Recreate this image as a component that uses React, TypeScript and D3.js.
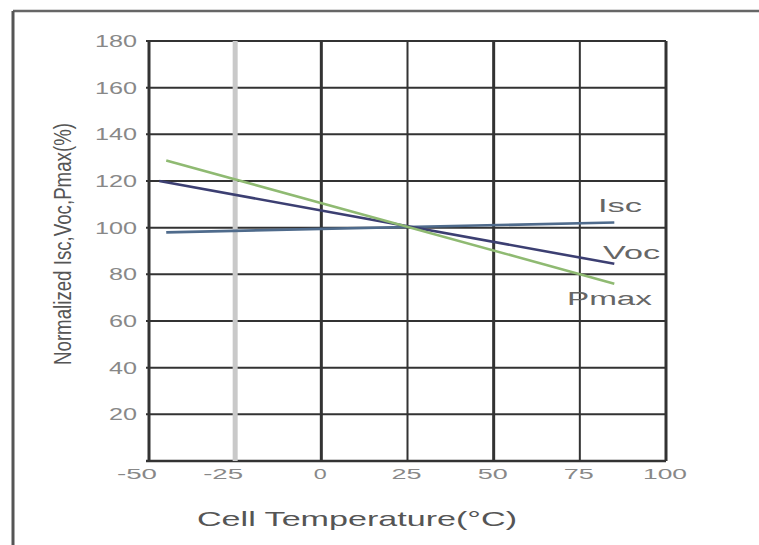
import React from "react";
import * as d3 from "d3";

// Temperature coefficient chart: normalized Isc, Voc and Pmax vs. cell temperature
const iscTemps = [-45, 85];
const iscValues = [98, 102.2];
const vocTemps = [-47, 85];
const vocValues = [120, 84.5];
const pmaxTemps = [-45, 85];
const pmaxValues = [128.8, 76];

const xTicks = [-50, -25, 0, 25, 50, 75, 100];
const yTicks = [0, 20, 40, 60, 80, 100, 120, 140, 160, 180];
const yTickLabels = ["20", "40", "60", "80", "100", "120", "140", "160", "180"];
const xTickLabels = ["-50", "-25", "0", "25", "50", "75", "100"];

const W = 759;
const H = 545;

export default function App() {
  const x = d3.scaleLinear().domain([-50, 100]).range([149, 666]);
  const y = d3.scaleLinear().domain([0, 180]).range([461, 41]);

  const line = d3
    .line<[number, number]>()
    .x((d) => x(d[0]))
    .y((d) => y(d[1]));

  const pairs = (t: number[], v: number[]) =>
    t.map((tt, i) => [tt, v[i]] as [number, number]);

  const series = [
    { name: "Isc", d: pairs(iscTemps, iscValues), color: "#4f6b8c" },
    { name: "Voc", d: pairs(vocTemps, vocValues), color: "#3c3f72" },
    { name: "Pmax", d: pairs(pmaxTemps, pmaxValues), color: "#8fba72" },
  ];

  const labelFont = "Arial, 'Liberation Sans', sans-serif";

  // vertical grid styling per temperature
  const vStyle = (t: number) => {
    if (t === -25) return { stroke: "#c9c9c9", w: 5 };
    if (t === 0 || t === 50 || t === -50 || t === 100) return { stroke: "#333", w: 3 };
    return { stroke: "#333", w: 2 };
  };

  const xLabelWidth = (s: string) =>
    s.startsWith("-") ? 40 : s.length === 1 ? 13 : s.length === 2 ? 30 : 44;

  return (
    <svg
      width={W}
      height={H}
      style={{ position: "absolute", left: 0, top: 0, background: "#fff" }}
      fontFamily={labelFont}
    >
      <rect x={0} y={0} width={W} height={H} fill="#fff" />
      {/* outer frame */}
      <line x1={13} y1={11} x2={W} y2={11} stroke="#666" strokeWidth={2.5} />
      <line x1={13} y1={11} x2={13} y2={H} stroke="#555" strokeWidth={3} />

      {/* horizontal grid */}
      {yTicks.map((v) => (
        <line
          key={"h" + v}
          x1={x(-50) - 3}
          x2={x(100)}
          y1={y(v)}
          y2={y(v)}
          stroke="#333"
          strokeWidth={v === 0 ? 2.5 : 2}
        />
      ))}

      {/* vertical grid */}
      {xTicks.map((t) => {
        const s = vStyle(t);
        return (
          <line
            key={"v" + t}
            x1={x(t)}
            x2={x(t)}
            y1={y(180)}
            y2={y(0)}
            stroke={s.stroke}
            strokeWidth={s.w}
          />
        );
      })}

      {/* series */}
      {series.map((s) => (
        <path
          key={s.name}
          d={line(s.d) || ""}
          fill="none"
          stroke={s.color}
          strokeWidth={2.6}
        />
      ))}

      {/* series labels */}
      <text x={598} y={212} fontSize={18} fill="#666" textLength={44} lengthAdjust="spacingAndGlyphs">
        Isc
      </text>
      <text x={603} y={259} fontSize={18} fill="#666" textLength={57} lengthAdjust="spacingAndGlyphs">
        Voc
      </text>
      <text x={567} y={305} fontSize={18} fill="#666" textLength={85} lengthAdjust="spacingAndGlyphs">
        Pmax
      </text>

      {/* y tick labels */}
      {yTickLabels.map((lab, i) => {
        const v = yTicks[i + 1];
        const w = lab.length * 14;
        return (
          <text
            key={"yl" + lab}
            x={137 - w}
            y={y(v) + 6}
            fontSize={16}
            fill="#888"
            textLength={w}
            lengthAdjust="spacingAndGlyphs"
          >
            {lab}
          </text>
        );
      })}

      {/* x tick labels */}
      {xTickLabels.map((lab, i) => {
        const t = xTicks[i];
        const w = xLabelWidth(lab);
        const cx = x(t) + (lab.startsWith("-") ? -12 : -1);
        return (
          <text
            key={"xl" + lab}
            x={cx - w / 2}
            y={479}
            fontSize={14}
            fill="#888"
            textLength={w}
            lengthAdjust="spacingAndGlyphs"
          >
            {lab}
          </text>
        );
      })}

      {/* axis titles */}
      <text
        x={197}
        y={526}
        fontSize={21}
        fill="#555"
        textLength={320}
        lengthAdjust="spacingAndGlyphs"
      >
        Cell Temperature(°C)
      </text>
      <text
        transform="translate(63,244) rotate(-90)"
        textAnchor="middle"
        dominantBaseline="central"
        fontSize={23}
        fill="#555"
        textLength={242}
        lengthAdjust="spacingAndGlyphs"
      >
        Normalized Isc,Voc,Pmax(%)
      </text>
    </svg>
  );
}
